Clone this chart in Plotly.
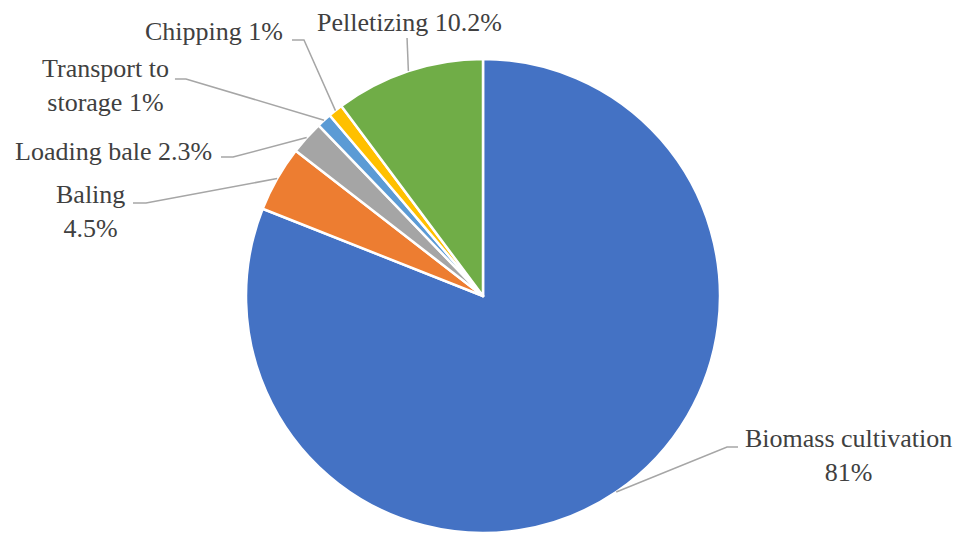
import math
import plotly.graph_objects as go

# ---- data ----
categories = ["Biomass cultivation", "Baling", "Loading bale", "Transport to storage", "Chipping", "Pelletizing"]
shares = [81, 4.5, 2.3, 1, 1, 10.2]
colors = ["#4472C4", "#ED7D31", "#A5A5A5", "#5B9BD5", "#FFC000", "#70AD47"]

# ---- layout (pixels) ----
W, H = 965, 540
CX, CY, R = 483, 296, 237
FONT = '"Liberation Serif", "Times New Roman", Times, "DejaVu Serif", serif'
# label text layout: how each label is broken into lines
label_fmt = ["{c}<br>{p}", "{c}<br>{p}", "{c} {p}", "Transport to<br>storage {p}", "{c} {p}", "{c} {p}"]
# label centre (px) and leader line elbow/end points (px)
label_pos = [(848, 455), (90, 211), (113, 151), (105, 86), (214, 32), (409, 22)]
leader_pts = [
    [(727, 447), (738, 447)],
    [(146, 203), (133, 203)],
    [(233, 157), (221, 157)],
    [(186, 79), (175, 79)],
    [(304, 40), (292, 40)],
    [(407, 38)],
]


def px(x, y):
    return x / W, 1 - y / H


fig = go.Figure(
    go.Pie(
        labels=categories,
        values=shares,
        sort=False,
        direction="clockwise",
        rotation=0,
        marker=dict(colors=colors, line=dict(color="white", width=2.5)),
        textinfo="none",
        hoverinfo="label+percent",
        domain=dict(x=[(CX - R) / W, (CX + R) / W], y=[1 - (CY + R) / H, 1 - (CY - R) / H]),
        showlegend=False,
    )
)

total = sum(shares)
cum = 0
shapes, annots = [], []
for i, (c, v) in enumerate(zip(categories, shares)):
    mid = (cum + v / 2) / total * 2 * math.pi
    cum += v
    sx, sy = CX + R * math.sin(mid), CY - R * math.cos(mid)
    pts = [(sx, sy)] + leader_pts[i]
    path = "M " + " L ".join("{:.4f},{:.4f}".format(*px(x, y)) for x, y in pts)
    shapes.append(dict(type="path", xref="paper", yref="paper", path=path,
                       line=dict(color="#A6A6A6", width=1.5)))
    lx, ly = px(*label_pos[i])
    annots.append(dict(
        x=lx, y=ly, xref="paper", yref="paper", xanchor="center", yanchor="middle",
        text=label_fmt[i].format(c=c, p=f"{v:g}%"), showarrow=False, align="center",
        font=dict(family=FONT, size=26, color="#404040"),
    ))

fig.update_layout(
    width=W, height=H,
    margin=dict(l=0, r=0, t=0, b=0),
    paper_bgcolor="white", plot_bgcolor="white",
    font=dict(family=FONT),
    shapes=shapes, annotations=annots,
)

fig.write_html("out.html", config={"displayModeBar": False},
               post_script="document.body.style.margin='0';")
